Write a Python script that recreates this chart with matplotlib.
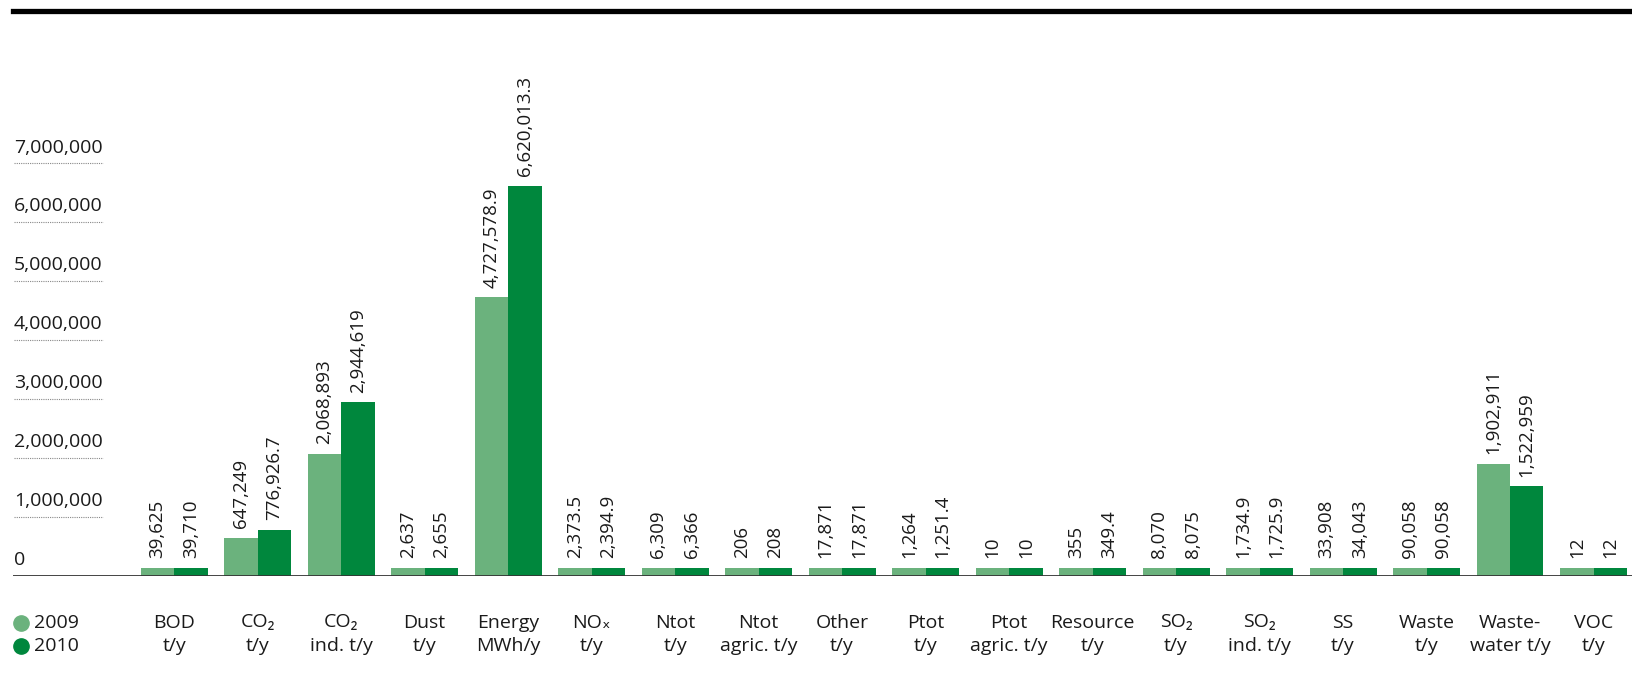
import matplotlib.pyplot as plt
import matplotlib.transforms as mtransforms
import numpy as np

plt.rcParams['font.family'] = ['Open Sans', 'DejaVu Sans']

# Data
categories = ["BOD\nt/y", "CO\u2082\nt/y", "CO\u2082\nind. t/y", "Dust\nt/y", "Energy\nMWh/y",
              "NO\u2093\nt/y", "Ntot\nt/y", "Ntot\nagric. t/y", "Other\nt/y", "Ptot\nt/y",
              "Ptot\nagric. t/y", "Resource\nt/y", "SO\u2082\nt/y", "SO\u2082\nind. t/y", "SS\nt/y",
              "Waste\nt/y", "Waste-\nwater t/y", "VOC\nt/y"]
values_2009 = [39625, 647249, 2068893, 2637, 4727578.9, 2373.5, 6309, 206, 17871, 1264,
               10, 355, 8070, 1734.9, 33908, 90058, 1902911, 12]
values_2010 = [39710, 776926.7, 2944619, 2655, 6620013.3, 2394.9, 6366, 208, 17871, 1251.4,
               10, 349.4, 8075, 1725.9, 34043, 90058, 1522959, 12]
years = ["2009", "2010"]
yticks = [0, 1000000, 2000000, 3000000, 4000000, 5000000, 6000000, 7000000]

light = '#6bb27d'
dark = '#00873d'
text_col = '#1a1a1a'


def fmt(v):
    if float(v).is_integer():
        return '{:,.0f}'.format(v)
    return '{:,.1f}'.format(v)


W, H = 1632, 686
fig = plt.figure(figsize=(W / 100, H / 100), dpi=100)
ax = fig.add_axes([13 / W, 110 / H, (W - 13) / W, 442 / H])

x = np.arange(len(categories))
bw = 0.4
floor = 140000  # smallest drawn bar height so tiny values stay visible

for vals, off, col in [(values_2009, -bw / 2, light), (values_2010, bw / 2, dark)]:
    v = np.array(vals, dtype=float)
    h = np.maximum(v, floor)
    ax.bar(x + off, h, width=bw, color=col, linewidth=0)
    for xi, hi, vi in zip(x + off, h, v):
        ax.annotate(fmt(vi), (xi, hi), xytext=(0, 7), textcoords='offset points',
                    rotation=90, ha='center', va='bottom', fontsize=13.5, color=text_col)

ax.set_xlim(-1.93, 17.46)
ax.set_ylim(0, 7.5e6)
ax.axis('off')
ax.axhline(0, color='#333333', lw=2)

# y labels with dotted underline
tr = mtransforms.blended_transform_factory(fig.transFigure, ax.transData)
for t in yticks:
    ax.annotate('{:,}'.format(t), (14 / W, t), xycoords=tr, xytext=(0, 5),
                textcoords='offset points', ha='left', va='bottom', fontsize=14, color=text_col)
    if t:
        ax.plot([14 / W, 103 / W], [t, t], transform=tr, color='#888888', lw=0.8,
                ls=(0, (1, 1)), clip_on=False)

# category labels
for xi, lab in zip(x, categories):
    ax.annotate(lab, (xi, 0), xytext=(0, -27), textcoords='offset points', ha='center',
                va='top', fontsize=14, color=text_col, linespacing=1.4)

# legend
for i, (yr, col) in enumerate(zip(years, [light, dark])):
    yy = 1 - (623 + 23 * i) / H
    fig.add_artist(plt.Line2D([21 / W], [yy], marker='o', markersize=11, color=col, lw=0))
    fig.text(34 / W, yy, yr, ha='left', va='center', fontsize=14, color=text_col)

# heavy top rule
fig.add_artist(plt.Line2D([13 / W, 1], [1 - 11 / H, 1 - 11 / H], color='black', lw=3.8))

fig.savefig('out.png', dpi=100)
